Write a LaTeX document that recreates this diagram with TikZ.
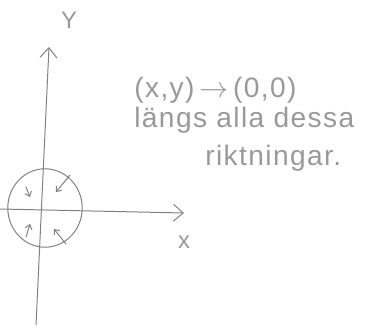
\documentclass[tikz,border=0pt]{standalone}
\usepackage{fontspec}
\setmainfont{Liberation Sans}
\newfontfamily\handfont[LetterSpace=5]{Liberation Sans}
\usetikzlibrary{arrows.meta}
\definecolor{pencil}{gray}{0.5}
\definecolor{pencillight}{gray}{0.6}
\tikzset{
  sketch/.style={draw=pencil, line width=0.7pt, line cap=round},
  tiny arrow/.style={sketch, -{Straight Barb[length=3pt, width=5pt]}},
  hand/.style={text=pencillight, font=\handfont\fontsize{20}{23}\selectfont, anchor=west, inner sep=0pt}
}
\begin{document}
\begin{tikzpicture}[x=0.025cm, y=-0.025cm]
\useasboundingbox (0,0) rectangle (387,328);
% Assi
\coordinate (ybot) at (36,325);
\coordinate (ytop) at (49,47);
\coordinate (xleft) at (0,209);
\coordinate (xright) at (184,213);
\draw[sketch, -{Straight Barb[length=7pt, width=12pt]}] (ybot) -- (ytop);
\draw[sketch, -{Straight Barb[length=7pt, width=12pt]}] (xleft) -- (xright);
\node[text=pencillight, font=\fontsize{17}{20}\selectfont] (ylab) at (69,20) {Y};
\node[text=pencillight, font=\fontsize{17}{20}\selectfont] (xlab) at (184,242) {x};
% Cerchio
\coordinate (origo) at (45,208);
\draw[sketch] (origo) ellipse [x radius=0.93cm, y radius=0.98cm];
\draw[tiny arrow] (70,175) -- (56,192);
\draw[tiny arrow] (26,187) -- (30,197);
\draw[tiny arrow] (26,237) -- (30,224);
\draw[tiny arrow] (66,244) -- (54,229);
% Text
\node[hand] (rad1) at (134,90) {(x,y)\,$\to$\,(0,0)};
\node[hand] (rad2) at (134,120) {längs alla dessa};
\node[hand] (rad3) at (205,158) {riktningar.};
\end{tikzpicture}
\end{document}
